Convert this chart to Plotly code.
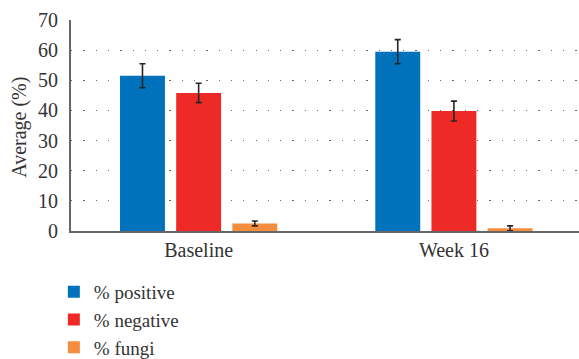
import plotly.graph_objects as go

categories = ["Baseline", "Week 16"]
series_names = ["% positive", "% negative", "% fungi"]
positive = [51.5, 59.5]
positive_err = [4.0, 4.0]
negative = [45.8, 39.8]
negative_err = [3.2, 3.3]
fungi = [2.5, 0.9]
fungi_err = [0.8, 0.8]
y_ticks = [0, 10, 20, 30, 40, 50, 60, 70]
y_title = "Average (%)"

colors = ["#0072BC", "#EE2A27", "#F58D3E"]
values = [positive, negative, fungi]
errors = [positive_err, negative_err, fungi_err]

FONT = "Liberation Serif"
FS = 20

fig = go.Figure()
for name, vals, errs, col in zip(series_names, values, errors, colors):
    fig.add_trace(go.Bar(
        x=categories, y=vals, name=name,
        marker=dict(color=col, line=dict(width=0)),
        error_y=dict(type="data", array=errs, visible=True,
                     color="#262626", thickness=1.6, width=3),
    ))

fig.update_layout(
    width=579, height=359,
    margin=dict(l=71, r=0, t=20, b=128, autoexpand=False),
    paper_bgcolor="white", plot_bgcolor="white",
    barmode="group", bargap=0.34, bargroupgap=0.2,
    font=dict(family=FONT, size=FS, color="#333333"),
    showlegend=True,
    legend=dict(orientation="v", xref="container", x=0.093, xanchor="left",
                yref="container", y=0.2395, yanchor="top",
                font=dict(family=FONT, size=19, color="#333333"),
                itemwidth=30, tracegroupgap=0, itemsizing="constant",
                bgcolor="rgba(0,0,0,0)"),
)

fig.add_annotation(
    text=y_title, xref="paper", yref="paper", x=-0.102, y=0.49,
    xanchor="center", yanchor="middle", textangle=-90, showarrow=False,
    font=dict(family=FONT, size=FS, color="#333333"),
)

fig.update_xaxes(
    range=[-0.5, 1.49], automargin=False,
    showline=True, linecolor="#666666", linewidth=2,
    showgrid=False, ticks="", tickfont=dict(size=FS, color="#333333"),
)
fig.update_yaxes(
    range=[0, 70], tickvals=y_ticks, automargin=False,
    showline=True, linecolor="#666666", linewidth=2,
    showgrid=True, gridcolor="#6a6a6a", gridwidth=1.3, griddash="1.3px,11px",
    zeroline=False, ticks="", ticklabelstandoff=7,
    tickfont=dict(size=FS, color="#333333"),
)

fig.write_html("out.html", config={"displayModeBar": False},
               post_script="document.body.style.margin='0';document.body.style.overflow='hidden';")
